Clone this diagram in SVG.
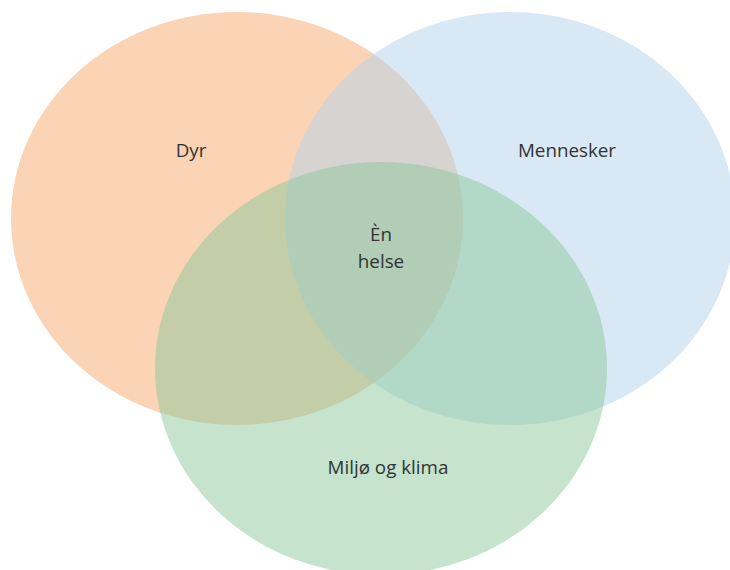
<svg xmlns="http://www.w3.org/2000/svg" width="730" height="570" viewBox="0 0 730 570">
<style>
.lbl{font-family:"Open Sans","Liberation Sans",sans-serif;font-size:18.8px;fill:#333;text-anchor:middle}
</style>
<rect width="730" height="570" fill="#fff"/>
<g id="dyr">
<ellipse cx="237" cy="218.5" rx="226" ry="206.5" fill="#fbd4b6"/>
</g>
<g id="mennesker">
<ellipse cx="510" cy="218.5" rx="225" ry="206.5" fill="#b3d1eb" fill-opacity="0.5"/>
</g>
<g id="miljo">
<ellipse cx="381" cy="368.5" rx="226" ry="206.5" fill="#8bc79b" fill-opacity="0.5"/>
</g>
<g id="labels">
<text class="lbl" x="191" y="157">Dyr</text>
<text class="lbl" x="567" y="157">Mennesker</text>
<text class="lbl" x="381" y="241">Èn</text>
<text class="lbl" x="381" y="268">helse</text>
<text class="lbl" x="388" y="474">Miljø og klima</text>
</g>
<g id="connectors"/>
</svg>
